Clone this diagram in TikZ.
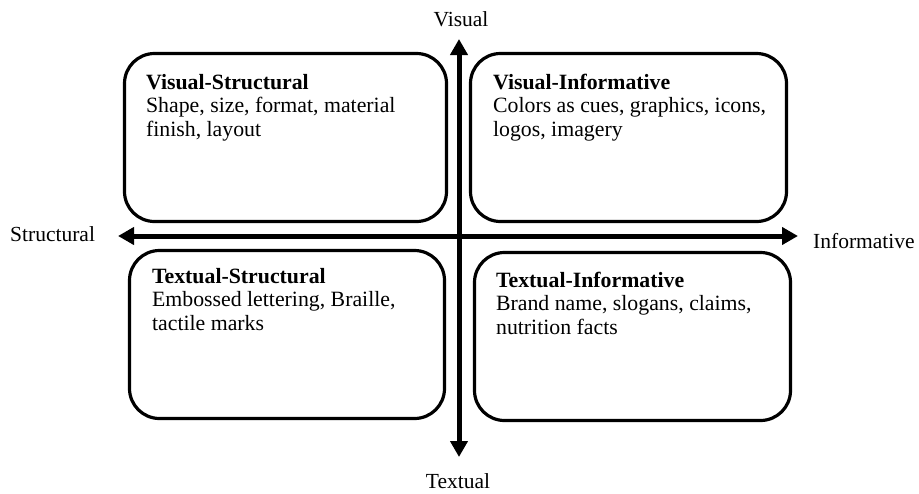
\documentclass[tikz,border=0pt]{standalone}
\usepackage{fontspec}
\setmainfont{Liberation Serif}
\usetikzlibrary{arrows.meta,calc}
\begin{document}
\begin{tikzpicture}[x=1pt,y=-1pt,
  quad/.style={draw=black,line width=3.2pt,rounded corners=30pt,inner sep=0pt,
    minimum width=#1,minimum height=168pt},
  quadtext/.style={anchor=north west,inner sep=0pt,align=left,
    font=\fontsize{21.8}{23.5}\selectfont},
  axislabel/.style={anchor=base,inner sep=0pt,font=\fontsize{21.5}{24}\selectfont},
  axis/.style={line width=5pt,{Triangle[length=16pt,width=17pt]}-{Triangle[length=16pt,width=17pt]}}]
\useasboundingbox (0,0) rectangle (919,493);

% four quadrant boxes
\node[quad=322pt] (vs) at (285.5,137.5) {};
\node[quad=316pt] (vi) at (628.5,137.5) {};
\node[quad=315pt] (ts) at (287,334.5) {};
\node[quad=316pt] (ti) at (632.5,336.5) {};

% box contents
\node[quadtext] (vst) at ($(vs.north west)+(23,22)$)
  {\textbf{Visual-Structural}\\Shape, size, format, material\\finish, layout};
\node[quadtext] (vit) at ($(vi.north west)+(24,22)$)
  {\textbf{Visual-Informative}\\Colors as cues, graphics, icons,\\logos, imagery};
\node[quadtext] (tst) at ($(ts.north west)+(24,19)$)
  {\textbf{Textual-Structural}\\Embossed lettering, Braille,\\tactile marks};
\node[quadtext] (tit) at ($(ti.north west)+(23,21)$)
  {\textbf{Textual-Informative}\\Brand name, slogans, claims,\\nutrition facts};

% axes
\coordinate (up) at (459,39);
\coordinate (down) at (459,457);
\coordinate (left) at (118,236);
\coordinate (right) at (798,236);
\draw[axis] (down) -- (up);
\draw[axis] (left) -- (right);

% axis labels
\node[axislabel] (lv) at (461,26) {Visual};
\node[axislabel] (lt) at (458,488) {Textual};
\node[axislabel,anchor=base west] (ls) at (10,241) {Structural};
\node[axislabel,anchor=base west] (li) at (813,248) {Informative};
\end{tikzpicture}
\end{document}
